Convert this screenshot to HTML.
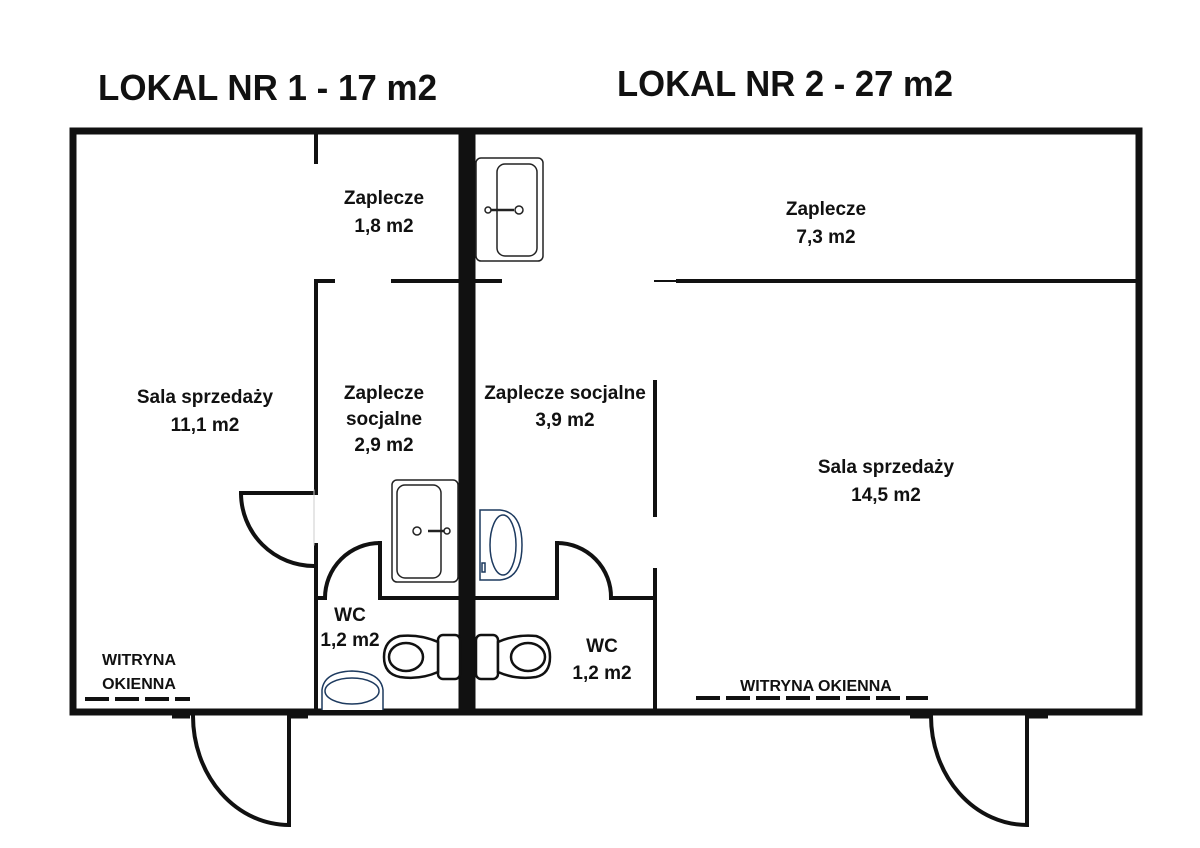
<!DOCTYPE html>
<html><head><meta charset="utf-8"><style>
html,body{margin:0;padding:0;background:#fff;}
svg{display:block;}
text{font-family:"Liberation Sans",sans-serif;font-weight:bold;fill:#111;}
</style></head><body>
<svg width="1200" height="848" viewBox="0 0 1200 848" xmlns="http://www.w3.org/2000/svg">
<text x="98" y="100" font-size="36" textLength="339" lengthAdjust="spacingAndGlyphs">LOKAL NR 1 - 17 m2</text>
<text x="617" y="96" font-size="36" textLength="336" lengthAdjust="spacingAndGlyphs">LOKAL NR 2 - 27 m2</text>

<g stroke="#111" fill="none" stroke-linecap="square">
<rect x="73" y="131" width="1066" height="581" stroke-width="7"/>
<line x1="467" y1="131" x2="467" y2="712" stroke-width="17" stroke-linecap="butt"/>
<line x1="316" y1="134" x2="316" y2="162" stroke-width="4"/>
<line x1="316" y1="281" x2="316" y2="490" stroke-width="4"/>
<line x1="316" y1="545" x2="316" y2="710" stroke-width="4"/>
<line x1="316" y1="281" x2="333" y2="281" stroke-width="4"/>
<line x1="393" y1="281" x2="460" y2="281" stroke-width="4"/>
<line x1="476" y1="281" x2="500" y2="281" stroke-width="4"/>
<line x1="655" y1="281" x2="675" y2="281" stroke-width="2"/>
<line x1="678" y1="281" x2="1139" y2="281" stroke-width="4"/>
<line x1="655" y1="382" x2="655" y2="515" stroke-width="4"/>
<line x1="655" y1="570" x2="655" y2="710" stroke-width="4"/>
<line x1="316" y1="598" x2="325" y2="598" stroke-width="4"/>
<line x1="380" y1="543" x2="380" y2="598" stroke-width="4"/>
<line x1="380" y1="598" x2="460" y2="598" stroke-width="4"/>
<line x1="476" y1="598" x2="557" y2="598" stroke-width="4"/>
<line x1="557" y1="543" x2="557" y2="598" stroke-width="4"/>
<line x1="611" y1="598" x2="655" y2="598" stroke-width="4"/>
<path d="M380 543 A55 55 0 0 0 325 598" stroke-width="4"/>
<path d="M557 543 A54 54 0 0 1 611 598" stroke-width="4"/>
<line x1="241" y1="493" x2="316" y2="493" stroke-width="4"/>
<path d="M241 493 A73 73 0 0 0 314 566" stroke-width="4"/>
<line x1="314" y1="490" x2="314" y2="545" stroke-width="1" stroke="#ccc"/>
<line x1="172" y1="716" x2="190" y2="716" stroke-width="5" stroke-linecap="butt"/>
<line x1="287" y1="716" x2="308" y2="716" stroke-width="5" stroke-linecap="butt"/>
<line x1="289" y1="716" x2="289" y2="825" stroke-width="4" stroke-linecap="butt"/>
<path d="M193 716 A96 109 0 0 0 289 825" stroke-width="4"/>
<line x1="910" y1="716" x2="930" y2="716" stroke-width="5" stroke-linecap="butt"/>
<line x1="1025" y1="716" x2="1048" y2="716" stroke-width="5" stroke-linecap="butt"/>
<line x1="1027" y1="716" x2="1027" y2="825" stroke-width="4" stroke-linecap="butt"/>
<path d="M931 716 A96 109 0 0 0 1027 825" stroke-width="4"/>
<line x1="85" y1="699" x2="190" y2="699" stroke-width="4" stroke-dasharray="24,6" stroke-linecap="butt"/>
<line x1="696" y1="698" x2="928" y2="698" stroke-width="4" stroke-dasharray="24,6" stroke-linecap="butt"/>
</g>

<g stroke="#222" fill="#fff" stroke-width="1.5">
<rect x="476" y="158" width="67" height="103" rx="5"/>
<rect x="497" y="164" width="40" height="92" rx="8"/>
<circle cx="519" cy="210" r="4"/>
<line x1="488" y1="210" x2="514" y2="210" stroke-width="2.5"/>
<circle cx="488" cy="210" r="3"/>
<rect x="392" y="480" width="66" height="102" rx="5"/>
<rect x="397" y="485" width="44" height="93" rx="8"/>
<circle cx="417" cy="531" r="4"/>
<line x1="428" y1="531" x2="447" y2="531" stroke-width="2.5"/>
<circle cx="447" cy="531" r="3"/>
</g>
<g stroke="#1d3a5f" fill="#fff" stroke-width="1.5">
<path d="M480 510 L500 510 Q522 512 522 545 Q522 578 500 580 L480 580 Z"/>
<ellipse cx="503" cy="545" rx="13" ry="30"/>
<rect x="482" y="563" width="3" height="9"/>
<path d="M322 710 L322 690 Q324 672 352 671 Q381 672 383 690 L383 710"/>
<ellipse cx="352" cy="691" rx="27" ry="13"/>
</g>
<g stroke="#111" fill="#fff" stroke-width="2.5">
<rect x="438" y="635" width="22" height="44" rx="5"/>
<path d="M438 642 Q420 634 400 636 Q384 640 384 657 Q384 674 400 677 Q420 680 438 672 Z"/>
<ellipse cx="406" cy="657" rx="17" ry="14"/>
<rect x="476" y="635" width="22" height="44" rx="5"/>
<path d="M498 642 Q516 634 536 636 Q550 640 550 657 Q550 674 536 677 Q516 680 498 672 Z"/>
<ellipse cx="528" cy="657" rx="17" ry="14"/>
</g>

<g font-size="19" text-anchor="middle">
<text x="384" y="204">Zaplecze</text>
<text x="384" y="232">1,8 m2</text>
<text x="826" y="215">Zaplecze</text>
<text x="826" y="243">7,3 m2</text>
<text x="205" y="403">Sala sprzedaży</text>
<text x="205" y="431">11,1 m2</text>
<text x="384" y="399">Zaplecze</text>
<text x="384" y="425">socjalne</text>
<text x="384" y="451">2,9 m2</text>
<text x="565" y="399">Zaplecze socjalne</text>
<text x="565" y="426">3,9 m2</text>
<text x="886" y="473">Sala sprzedaży</text>
<text x="886" y="501">14,5 m2</text>
<text x="350" y="621">WC</text>
<text x="350" y="646">1,2 m2</text>
<text x="602" y="652">WC</text>
<text x="602" y="679">1,2 m2</text>
</g>
<g font-size="16" text-anchor="middle">
<text x="139" y="665">WITRYNA</text>
<text x="139" y="689">OKIENNA</text>
<text x="816" y="691">WITRYNA OKIENNA</text>
</g>
</svg>
</body></html>
